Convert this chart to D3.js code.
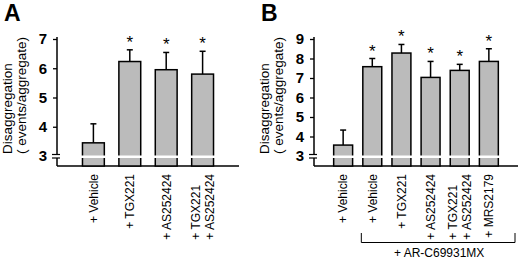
<!DOCTYPE html>
<html>
<head>
<meta charset="utf-8">
<script src="https://cdn.jsdelivr.net/npm/d3@7"></script>
<style>
  body { margin: 0; background: #fff; }
  svg text { font-family: Arial, "Liberation Sans", sans-serif; }
</style>
</head>
<body>
<svg id="chart" width="520" height="260"></svg>
<script>
// Panel A data
const catsA = [["+ Vehicle"], ["+ TGX221"], ["+ AS252424"], ["+ TGX221", "+ AS252424"]];
const meanA = [3.45, 6.23, 5.95, 5.8];
const errA = [0.65, 0.4, 0.59, 0.78];
const starA = [false, true, true, true];
const ticksA = [3, 4, 5, 6, 7];

// Panel B data
const catsB = [["+ Vehicle"], ["+ Vehicle"], ["+ TGX221"], ["+ AS252424"], ["+ TGX221", "+ AS252424"], ["+ MRS2179"]];
const meanB = [3.56, 7.58, 8.28, 7.03, 7.39, 7.85];
const errB = [0.77, 0.42, 0.44, 0.82, 0.31, 0.65];
const starB = [false, true, true, true, true, true];
const ticksB = [3, 4, 5, 6, 7, 8, 9];
const groupB = "+ AR-C69931MX";

const svg = d3.select("#chart");

function drawPanel(opt) {
    const g = svg.append("g").attr("transform", `translate(${opt.dx},0)`);
    const x0 = 57, x1 = opt.axisEnd, yTop = 39, yBreak = 156, yBase = 166;

    const y = d3.scaleLinear().domain(opt.domain).range([yBreak, yTop]);
    const step = (x1 - x0) / (opt.cats.length + 1);
    const x = d3.scaleBand()
        .domain(d3.range(opt.cats.length))
        .range([x0 + step / 2, x1 - step / 2])
        .paddingInner(opt.pad)
        .paddingOuter(opt.pad / 2);

    // panel letter
    g.append("text").attr("x", 4).attr("y", 21)
        .attr("font-size", 23).attr("font-weight", "bold").text(opt.letter);

    // y title
    const title = g.append("g").attr("transform", `translate(0,154) rotate(-90)`);
    title.append("text").attr("x", 0).attr("y", 12).attr("font-size", 13.5).text("Disaggregation");
    title.append("text").attr("x", 0).attr("y", 26).attr("font-size", 13.5).text("( events/aggregate)");

    // y axis (upper part)
    const yAxis = g.append("g").attr("transform", `translate(${x0},0)`)
        .call(d3.axisLeft(y).tickValues(opt.ticks).tickSize(4).tickFormat(d3.format("d")));
    yAxis.select(".domain").remove();
    yAxis.selectAll(".tick line").attr("stroke", "#000").attr("stroke-width", 1.3);
    yAxis.selectAll(".tick text")
        .attr("font-size", 15).attr("font-weight", "bold").attr("x", -10)
        .attr("font-family", "Arial, 'Liberation Sans', sans-serif");
    yAxis.selectAll(".tick").filter(d => d === opt.domain[0]).select("line").remove();

    g.append("line").attr("x1", x0).attr("x2", x0).attr("y1", yTop - 2).attr("y2", yBreak - 1.5)
        .attr("stroke", "#000").attr("stroke-width", 1.5);
    g.append("line").attr("x1", x0).attr("x2", x0).attr("y1", yBreak + 2).attr("y2", yBase)
        .attr("stroke", "#000").attr("stroke-width", 1.5);
    [yBreak - 1.5, yBreak + 2].forEach(v => {
        g.append("line").attr("x1", x0 - 5).attr("x2", x0 + 3).attr("y1", v).attr("y2", v)
            .attr("stroke", "#000").attr("stroke-width", 1.2);
    });

    // x axis baseline
    g.append("line").attr("x1", x0).attr("x2", x1).attr("y1", yBase).attr("y2", yBase)
        .attr("stroke", "#000").attr("stroke-width", 1.5);

    const idx = d3.range(opt.cats.length);

    // bars
    g.selectAll("rect.bar").data(idx).join("rect").attr("class", "bar")
        .attr("x", i => x(i)).attr("width", x.bandwidth())
        .attr("y", i => y(opt.mean[i])).attr("height", i => yBase - y(opt.mean[i]))
        .attr("fill", "#bbbbbb").attr("stroke", "#000").attr("stroke-width", 1.5);

    // white break band across bars
    g.selectAll("rect.brk").data(idx).join("rect").attr("class", "brk")
        .attr("x", i => x(i) - 1.5).attr("width", x.bandwidth() + 3)
        .attr("y", yBreak - 0.5).attr("height", 2.5).attr("fill", "#fff");

    // error bars
    idx.forEach(i => {
        const cx = x(i) + x.bandwidth() / 2;
        const top = y(opt.mean[i] + opt.err[i]);
        g.append("line").attr("x1", cx).attr("x2", cx).attr("y1", y(opt.mean[i])).attr("y2", top)
            .attr("stroke", "#000").attr("stroke-width", 1.5);
        g.append("line").attr("x1", cx - 3).attr("x2", cx + 3).attr("y1", top).attr("y2", top)
            .attr("stroke", "#000").attr("stroke-width", 1.5);
        if (opt.star[i]) {
            g.append("text").attr("x", cx).attr("y", top - 2).attr("text-anchor", "middle")
                .attr("font-size", 17).text("*");
        }
    });

    // x labels (rotated)
    idx.forEach(i => {
        const cx = x(i) + x.bandwidth() / 2;
        const lines = opt.cats[i];
        const lg = g.append("g").attr("transform", `translate(${cx},174) rotate(-90)`);
        const texts = lines.map((s, k) => lg.append("text")
            .attr("y", (k - (lines.length - 1) / 2) * 13.5)
            .attr("dy", "0.36em").attr("font-size", 12).text(s));
        const L = d3.max(texts, t => t.node().getComputedTextLength());
        texts.forEach(t => t.attr("x", -L).attr("text-anchor", "start"));
    });

    // group bracket
    if (opt.group) {
        const bx0 = x(1) - 1.5, bx1 = x1 - 3, by = 242.5;
        g.append("path")
            .attr("d", `M${bx0},233V${by}H${bx1}V233`)
            .attr("fill", "none").attr("stroke", "#000").attr("stroke-width", 1);
        g.append("text").attr("x", (bx0 + bx1) / 2 + 1).attr("y", 256.5)
            .attr("text-anchor", "middle").attr("font-size", 12).text(opt.group);
    }
}

drawPanel({ dx: 0, letter: "A", cats: catsA, mean: meanA, err: errA, star: starA,
    ticks: ticksA, domain: [3, 7], axisEnd: 239, pad: 0.4 });
drawPanel({ dx: 257, letter: "B", cats: catsB, mean: meanB, err: errB, star: starB,
    ticks: ticksB, domain: [3, 9], axisEnd: 261, pad: 0.35, group: groupB });
</script>
</body>
</html>
